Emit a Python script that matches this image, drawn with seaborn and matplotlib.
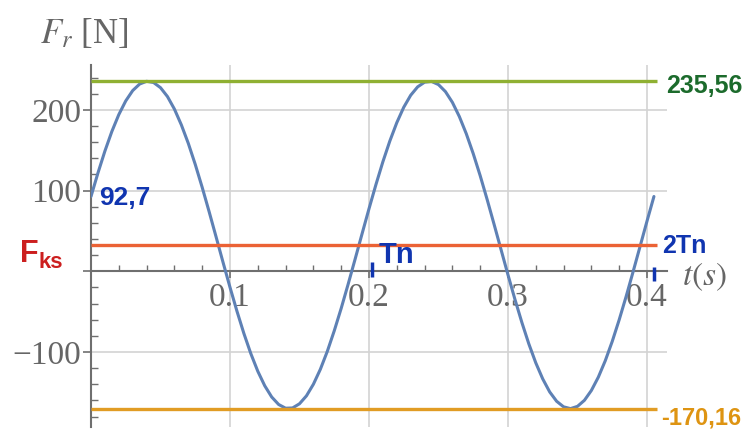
import numpy as np
import pandas as pd
import matplotlib.pyplot as plt
import matplotlib.ticker as mticker
import seaborn as sns

# time samples (s)
t_s = [0.000, 0.005, 0.010, 0.015, 0.020, 0.025, 0.030, 0.035, 0.040, 0.045,
       0.050, 0.055, 0.060, 0.065, 0.070, 0.075, 0.080, 0.085, 0.090, 0.095,
       0.100, 0.105, 0.110, 0.115, 0.120, 0.125, 0.130, 0.135, 0.140, 0.145,
       0.150, 0.155, 0.160, 0.165, 0.170, 0.175, 0.180, 0.185, 0.190, 0.195,
       0.200, 0.205, 0.210, 0.215, 0.220, 0.225, 0.230, 0.235, 0.240, 0.245,
       0.250, 0.255, 0.260, 0.265, 0.270, 0.275, 0.280, 0.285, 0.290, 0.295,
       0.300, 0.305, 0.310, 0.315, 0.320, 0.325, 0.330, 0.335, 0.340, 0.345,
       0.350, 0.355, 0.360, 0.365, 0.370, 0.375, 0.380, 0.385, 0.390, 0.395,
       0.400, 0.405]

# F_r in N at those times
force_n = [92.7, 121.9, 149.0, 173.3, 194.2, 211.2, 224.0, 232.1, 235.5, 234.0,
           227.6, 216.6, 201.1, 181.5, 158.6, 132.5, 104.0, 73.8, 42.6, 11.1,
           -19.8, -49.4, -77.1, -102.1, -123.9, -141.9, -155.8, -165.1, -169.7, -169.4,
           -164.2, -154.4, -140.0, -121.5, -99.3, -73.8, -45.9, -16.0, 15.0, 46.4,
           77.5, 107.5, 135.8, 161.5, 184.2, 203.3, 218.2, 228.6, 234.4, 235.3,
           231.4, 222.7, 209.4, 191.8, 170.5, 145.8, 118.5, 89.0, 58.2, 26.9,
           -4.4, -34.8, -63.5, -90.0, -113.5, -133.4, -149.5, -161.1, -168.0, -170.2,
           -167.4, -159.9, -147.7, -131.2, -110.8, -86.9, -60.1, -31.2, -0.6, 30.7,
           62.1, 92.7]

F_max = 235.56
F_min = -170.16
F_ks = 32.7
T_n = 0.2025

x_ticks = [0.0, 0.1, 0.2, 0.3, 0.4]
y_ticks = [-100, 0, 100, 200]

df = pd.DataFrame({'t': t_s, 'F': force_n})

sns.set_style('white')
plt.rcParams['font.family'] = ['Liberation Serif', 'DejaVu Serif']
plt.rcParams['mathtext.fontset'] = 'stix'

W, H = 746, 436
fig, ax = plt.subplots(figsize=(W / 100, H / 100), dpi=100)
fig.subplots_adjust(left=91 / W, right=667 / W, bottom=1 - 427 / H, top=1 - 65 / H)


def px(x, y):
    return x / W, 1 - y / H


axis_grey = '#6f6f6f'
text_grey = '#666666'

# grid + axes through origin (Mathematica look)
ax.set_xlim(0, 0.4144)
ax.set_ylim(-193, 255.7)
ax.set_xticks(x_ticks)
ax.set_yticks(y_ticks)
ax.xaxis.set_minor_locator(mticker.MultipleLocator(0.02))
ax.yaxis.set_minor_locator(mticker.MultipleLocator(20))
ax.xaxis.set_major_formatter(mticker.FuncFormatter(lambda v, p: '' if abs(v) < 1e-9 else f'{v:.1f}'))
ax.yaxis.set_major_formatter(mticker.FuncFormatter(lambda v, p: '' if v == 0 else f'{v:.0f}'.replace('-', '\u2212')))
ax.grid(True, which='major', color='#d3d3d3', lw=1.2)
ax.set_axisbelow(True)

for s in ['top', 'right']:
    ax.spines[s].set_visible(False)
ax.spines['left'].set_position(('data', 0))
ax.spines['bottom'].set_position(('data', 0))
for s in ['left', 'bottom']:
    ax.spines[s].set_color(axis_grey)
    ax.spines[s].set_linewidth(1.5)

ax.tick_params(axis='both', which='both', left=True, bottom=True)
ax.tick_params(axis='y', which='major', direction='out', length=6, width=1.2,
               color=axis_grey, labelsize=24, labelcolor=text_grey, pad=1)
ax.tick_params(axis='y', which='minor', direction='in', length=5, width=1.0, color=axis_grey)
ax.tick_params(axis='x', which='major', direction='out', length=5, width=1.2,
               color=axis_grey, labelsize=24, labelcolor=text_grey, pad=3)
ax.tick_params(axis='x', which='minor', direction='in', length=4.5, width=1.0, color=axis_grey)

# the force curve
sns.lineplot(data=df, x='t', y='F', color='#5E81B5', lw=2.2, ax=ax, zorder=3)
ax.set_xlabel('')
ax.set_ylabel('')

# reference levels
x_end = 2 * T_n + 0.002
ax.hlines(F_max, 0, x_end, color='#8FB032', lw=2.4, zorder=4)
ax.hlines(F_ks, 0, x_end, color='#EB6235', lw=2.4, zorder=4)
ax.hlines(F_min, 0, x_end, color='#E19C24', lw=2.4, zorder=4)

# axis labels
fig.text(*px(40, 43), r'$F_r$ [N]', fontsize=25, color=text_grey, va='baseline')
fig.text(*px(682, 285), r'$t(s)$', fontsize=24, color=text_grey, va='baseline')

# handwritten notes
hand = dict(family='Liberation Sans', weight='bold', va='baseline')
blue = '#1035b0'
red = '#cc1f1f'
fig.text(*px(99, 205), '92,7', fontsize=19, color=blue, **hand)
fig.text(*px(20, 262), 'F', fontsize=22, color=red, **hand)
fig.text(*px(38, 268), 'ks', fontsize=16, color=red, **hand)
fig.text(*px(379, 263), 'Tn', fontsize=21, color=blue, **hand)
fig.text(*px(662, 253), '2Tn', fontsize=18, color=blue, **hand)
ax.vlines(T_n, -7, 11, color=blue, lw=2.5, zorder=5)
ax.vlines(2 * T_n, -12, 5, color=blue, lw=2.5, zorder=5)
fig.text(*px(666, 93), '235,56', fontsize=18, color='#1c6b2c', **hand)
fig.text(*px(661, 424), '-170,16', fontsize=17, color='#de9412', **hand)

fig.savefig('out.png', dpi=100)
